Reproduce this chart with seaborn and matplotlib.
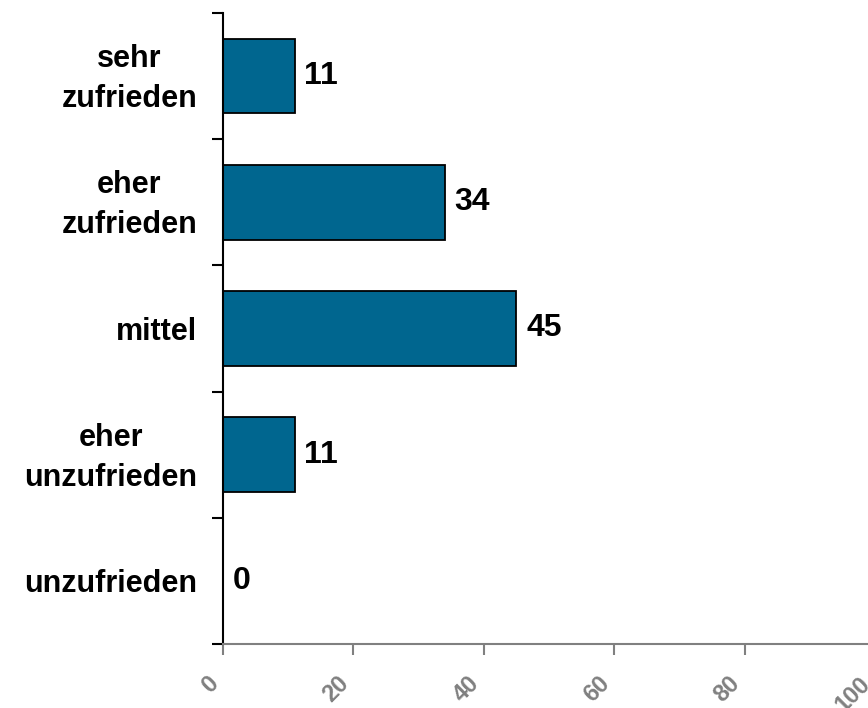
import matplotlib
matplotlib.use("Agg")
import matplotlib.pyplot as plt
import matplotlib.transforms as mtransforms
import seaborn as sns
import pandas as pd
import numpy as np

categories = ["sehr\nzufrieden", "eher\nzufrieden", "mittel", "eher\nunzufrieden", "unzufrieden"]
values = [11, 34, 45, 11, 0]
xticks = [0, 20, 40, 60, 80, 100]

sns.set_theme(style="white")
plt.rcParams['font.family'] = ['Liberation Sans', 'DejaVu Sans']

df = pd.DataFrame({"cat": categories, "val": values})

fig = plt.figure(figsize=(8.68, 7.08), dpi=100)
ax = fig.add_axes([223/868, 64/708, 652/868, 631/708])

sns.barplot(data=df, x="val", y="cat", orient="h", color="#00668F", saturation=1,
            width=0.59, edgecolor="black", linewidth=1.3, ax=ax)

ax.set_xlim(0, 100)
ax.set_ylim(len(categories) - 0.5, -0.5)
ax.set_xlabel("")
ax.set_ylabel("")

for spine in ["top", "right"]:
    ax.spines[spine].set_visible(False)
ax.spines["left"].set_color("black")
ax.spines["left"].set_linewidth(1.5)
ax.spines["bottom"].set_color("#808080")
ax.spines["bottom"].set_linewidth(1.5)

# y ticks: labels at centers, tick marks at boundaries
ax.set_yticks(range(len(categories)))
ax.set_yticklabels(categories, fontsize=22, fontweight="bold", color="black",
                   multialignment="center", linespacing=1.42, va="center")
ax.tick_params(axis="y", which="major", length=0, pad=18.5)
ax.set_yticks(np.arange(-0.5, len(categories), 1.0), minor=True)
ax.tick_params(axis="y", which="minor", length=8, width=1.5, color="black", left=True)
yoff = mtransforms.ScaledTranslation(0, -3/100, fig.dpi_scale_trans)
for lab in ax.get_yticklabels():
    lab.set_transform(lab.get_transform() + yoff)

ax.set_xticks(xticks)
ax.set_xticklabels([str(t) for t in xticks], rotation=45, ha="right", va="center",
                   rotation_mode="anchor",
                   fontsize=17, fontweight="bold", color="#808080")
ax.tick_params(axis="x", which="major", length=8, width=1.5, color="#808080",
               bottom=True, pad=18)
offset = mtransforms.ScaledTranslation(-8/100, 0, fig.dpi_scale_trans)
for lab in ax.get_xticklabels():
    lab.set_transform(lab.get_transform() + offset)

for i, v in enumerate(values):
    ax.text(v + 1.5, i, str(v), va="center", ha="left", fontsize=23,
            fontweight="bold", color="black")

fig.savefig("out.png", dpi=100)
